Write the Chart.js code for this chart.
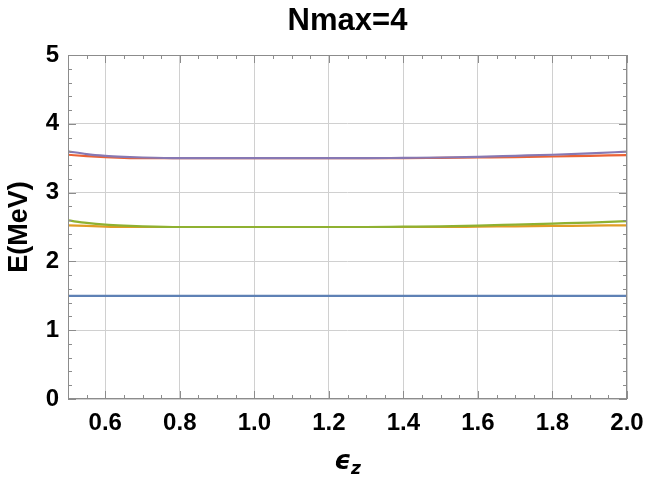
<!DOCTYPE html>
<html lang="en">
<head>
    <meta charset="UTF-8">
    <title>Nmax=4</title>
    <script src="https://cdn.jsdelivr.net/npm/chart.js"></script>
    <style>
        body { margin: 0; background: #fff; }
        #wrap { width: 645px; height: 481px; }
    </style>
</head>
<body>
    <div id="wrap"><canvas id="myChart" width="645" height="481"></canvas></div>
    <script>
        // values
        var epsZ = [0.5, 0.55, 0.6, 0.65, 0.7, 0.8, 0.9, 1.0, 1.1, 1.2, 1.3, 1.4, 1.5, 1.6, 1.7, 1.8, 1.9, 2.0];
        var level1 = [1.5, 1.5, 1.5, 1.5, 1.5, 1.5, 1.5, 1.5, 1.5, 1.5, 1.5, 1.5, 1.5, 1.5, 1.5, 1.5, 1.5, 1.5];
        var level2a = [2.525, 2.515, 2.505, 2.5, 2.5, 2.5, 2.5, 2.5, 2.5, 2.5, 2.5, 2.5, 2.5, 2.505, 2.51, 2.515, 2.52, 2.525];
        var level2b = [2.595, 2.56, 2.535, 2.52, 2.51, 2.5, 2.5, 2.5, 2.5, 2.5, 2.5, 2.505, 2.51, 2.52, 2.535, 2.55, 2.565, 2.585];
        var level3a = [3.55, 3.53, 3.515, 3.505, 3.5, 3.5, 3.5, 3.5, 3.5, 3.5, 3.5, 3.5, 3.505, 3.51, 3.515, 3.525, 3.535, 3.545];
        var level3b = [3.6, 3.56, 3.535, 3.52, 3.51, 3.5, 3.5, 3.5, 3.5, 3.5, 3.5, 3.505, 3.51, 3.52, 3.535, 3.55, 3.57, 3.595];
        var xTicks = [0.6, 0.8, 1.0, 1.2, 1.4, 1.6, 1.8, 2.0];
        var yTicks = [0, 1, 2, 3, 4, 5];
        var titleText = 'Nmax=4';
        var yTitle = 'E(MeV)';

        var series = [
            { data: level1, color: '#5E81B5' },
            { data: level2a, color: '#E19C24' },
            { data: level2b, color: '#8FB131' },
            { data: level3a, color: '#EB6235' },
            { data: level3b, color: '#8778B3' }
        ];

        function toPoints(ys) {
            return epsZ.map(function (x, i) { return { x: x, y: ys[i] }; });
        }

        var FONT = '"Liberation Sans", Arial, sans-serif';

        // frame with ticks on all sides + title texts
        var framePlugin = {
            id: 'frame',
            afterDraw: function (chart) {
                var ctx = chart.ctx;
                var a = chart.chartArea;
                var xs = chart.scales.x, ys = chart.scales.y;
                ctx.save();
                ctx.strokeStyle = '#8c8c8c';
                ctx.lineWidth = 1;
                ctx.strokeRect(a.left + 0.5, a.top + 0.5, a.right - a.left - 1, a.bottom - a.top - 1);
                ctx.beginPath();
                for (var k = 10; k <= 40; k++) {
                    var v = k * 0.05;
                    var px = Math.round(xs.getPixelForValue(v)) + 0.5;
                    var len = (k % 4 === 0) ? 8 : 4;
                    ctx.moveTo(px, a.bottom); ctx.lineTo(px, a.bottom - len);
                    ctx.moveTo(px, a.top); ctx.lineTo(px, a.top + len);
                }
                for (var j = 0; j <= 25; j++) {
                    var py = Math.round(ys.getPixelForValue(j * 0.2)) + 0.5;
                    var l2 = (j % 5 === 0) ? 8 : 4;
                    ctx.moveTo(a.left, py); ctx.lineTo(a.left + l2, py);
                    ctx.moveTo(a.right, py); ctx.lineTo(a.right - l2, py);
                }
                ctx.stroke();

                var cx = (a.left + a.right) / 2;
                ctx.fillStyle = '#000';
                ctx.textAlign = 'center';
                ctx.textBaseline = 'middle';
                ctx.font = 'bold 31px ' + FONT;
                ctx.fillText(titleText, cx, 21);

                // x axis title: epsilon with subscript z
                ctx.font = 'italic bold 26px "DejaVu Sans", sans-serif';
                var w1 = ctx.measureText('\u03F5').width;
                ctx.font = 'italic bold 17px "DejaVu Sans", sans-serif';
                var w2 = ctx.measureText('z').width;
                var sx = cx - (w1 + w2) / 2;
                ctx.textAlign = 'left';
                ctx.font = 'italic bold 26px "DejaVu Sans", sans-serif';
                ctx.fillText('\u03F5', sx, 462);
                ctx.font = 'italic bold 17px "DejaVu Sans", sans-serif';
                ctx.fillText('z', sx + w1, 470);

                // y axis title
                ctx.translate(20, (a.top + a.bottom) / 2);
                ctx.rotate(-Math.PI / 2);
                ctx.textAlign = 'center';
                ctx.font = 'bold 27px ' + FONT;
                ctx.fillText(yTitle, 0, 0);
                ctx.restore();
            }
        };

        var ctx = document.getElementById('myChart').getContext('2d');
        var myChart = new Chart(ctx, {
            type: 'line',
            data: {
                datasets: series.map(function (s, i) {
                    return {
                        data: toPoints(s.data),
                        borderColor: s.color,
                        borderWidth: 2.2,
                        pointRadius: 0,
                        cubicInterpolationMode: 'monotone',
                        fill: false,
                        order: series.length - i
                    };
                })
            },
            options: {
                responsive: false,
                animation: false,
                layout: { padding: { top: 55, right: 18, left: 0, bottom: 0 } },
                plugins: {
                    legend: { display: false },
                    title: { display: false },
                    tooltip: { enabled: false }
                },
                scales: {
                    x: {
                        type: 'linear',
                        min: 0.5,
                        max: 2.0,
                        afterBuildTicks: function (s) {
                            s.ticks = xTicks.map(function (v) { return { value: v }; });
                        },
                        afterFit: function (s) {
                            s.height = 481 - 399;
                            s.paddingLeft = 0;
                            s.paddingRight = 0;
                        },
                        border: { display: false },
                        grid: { color: '#d0d0d0', lineWidth: 1, drawTicks: false },
                        ticks: {
                            padding: 10,
                            color: '#000',
                            font: { family: FONT, size: 24, weight: 'bold' },
                            callback: function (v) { return v.toFixed(1); }
                        }
                    },
                    y: {
                        min: 0,
                        max: 5,
                        afterBuildTicks: function (s) {
                            s.ticks = yTicks.map(function (v) { return { value: v }; });
                        },
                        afterFit: function (s) {
                            s.width = 68;
                            s.paddingTop = 0;
                            s.paddingBottom = 0;
                        },
                        border: { display: false },
                        grid: { color: '#d0d0d0', lineWidth: 1, drawTicks: false },
                        ticks: {
                            padding: 9,
                            color: '#000',
                            font: { family: FONT, size: 24, weight: 'bold' }
                        }
                    }
                }
            },
            plugins: [framePlugin]
        });
    </script>
</body>
</html>
